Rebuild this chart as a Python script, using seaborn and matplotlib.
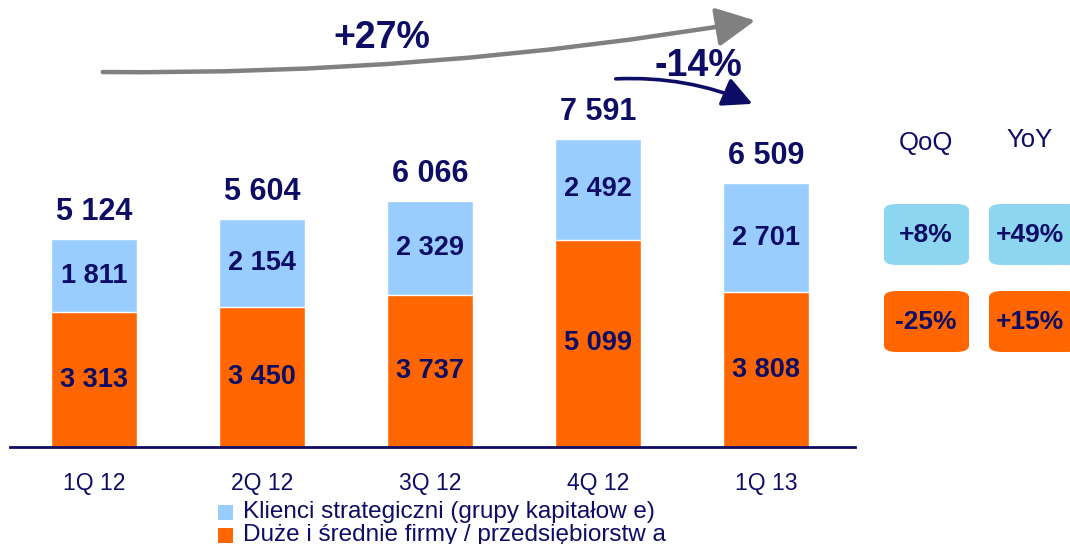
import pandas as pd
import matplotlib
matplotlib.use("Agg")
import matplotlib.pyplot as plt
import seaborn as sns
from matplotlib.patches import FancyArrowPatch, FancyBboxPatch, Rectangle

quarters = ["1Q 12", "2Q 12", "3Q 12", "4Q 12", "1Q 13"]
strategic = [1811, 2154, 2329, 2492, 2701]
mid_firms = [3313, 3450, 3737, 5099, 3808]
qoq = ["+8%", "-25%"]
yoy = ["+49%", "+15%"]
growth_total = "+27%"
growth_last = "-14%"
legend_labels = ["Klienci strategiczni (grupy kapitałow e)",
                 "Duże i średnie firmy / przedsiębiorstw a"]

navy = "#0d0d66"
blue = "#99ccff"
orange = "#ff6600"
box_blue = "#8dd6f0"

data = pd.DataFrame({"quarter": quarters, "strategic": strategic, "mid": mid_firms})
data["total"] = data["strategic"] + data["mid"]

sns.set_style("white")
plt.rcParams["font.family"] = ["Liberation Sans", "DejaVu Sans"]

W, H = 1070, 544
fig = plt.figure(figsize=(W / 100, H / 100), dpi=100)
ax = fig.add_axes([10 / W, (H - 447) / H, 845 / W, 447 / H])


def px(x, y):
    return x / W, 1 - y / H


# stacked bars: total in blue, bottom part in orange on top of it
sns.barplot(data=data, x="quarter", y="total", color=blue, width=0.51,
            saturation=1, ax=ax)
sns.barplot(data=data, x="quarter", y="mid", color=orange, width=0.51,
            saturation=1, ax=ax)

ax.set_xlim(-0.5, 4.53)
ax.set_ylim(0, 11010)
ax.set_xlabel("")
ax.set_ylabel("")
ax.set_yticks([])
for s in ["top", "left", "right"]:
    ax.spines[s].set_visible(False)
ax.spines["bottom"].set_color(navy)
ax.spines["bottom"].set_linewidth(2)
ax.tick_params(axis="x", length=0, pad=18, labelsize=16.5, labelcolor=navy)

for i, row in data.iterrows():
    ax.text(i, row["mid"] / 2, f"{row['mid']:,}".replace(",", " "),
            ha="center", va="center", fontsize=19.5, fontweight="bold", color=navy)
    ax.text(i, row["mid"] + row["strategic"] / 2,
            f"{row['strategic']:,}".replace(",", " "),
            ha="center", va="center", fontsize=19.5, fontweight="bold", color=navy)
    ax.text(i, row["total"] + 300, f"{row['total']:,}".replace(",", " "),
            ha="center", va="bottom", fontsize=22, fontweight="bold", color=navy)

# growth arrows
a1 = FancyArrowPatch(px(100, 72), px(758, 20), transform=fig.transFigure,
                     connectionstyle="arc3,rad=0.045",
                     arrowstyle="-|>,head_length=1.2,head_width=0.6",
                     mutation_scale=20, color="#808080", lw=3.2)
fig.patches.append(a1)
a2 = FancyArrowPatch(px(613, 79), px(755, 105), transform=fig.transFigure,
                     connectionstyle="arc3,rad=-0.12",
                     arrowstyle="-|>,head_length=1.0,head_width=0.5",
                     mutation_scale=18, color=navy, lw=2.6)
fig.patches.append(a2)
fig.text(*px(382, 38), growth_total, ha="center", va="center",
         fontsize=27, fontweight="bold", color=navy)
fig.text(*px(698, 66), growth_last, ha="center", va="center",
         fontsize=27, fontweight="bold", color=navy)

# QoQ / YoY boxes
fig.text(*px(926, 143), "QoQ", ha="center", va="center", fontsize=18.5, color=navy)
fig.text(*px(1030, 140), "YoY", ha="center", va="center", fontsize=18.5, color=navy)
for j, (q, y) in enumerate(zip(qoq, yoy)):
    col = box_blue if j == 0 else orange
    top = 204 + j * 87
    for k, (txt, x0) in enumerate([(q, 884), (y, 989)]):
        w = 85 if k == 0 else 90
        x_, y_ = px(x0, top + 61)
        box = FancyBboxPatch((x_, y_), w / W, 61 / H, transform=fig.transFigure,
                             boxstyle="round,pad=0,rounding_size=0.012",
                             facecolor=col, edgecolor="none", clip_on=False)
        fig.patches.append(box)
        fig.text(*px(x0 + 42 if k == 0 else x0 + 41, top + 31), txt,
                 ha="center", va="center", fontsize=19, fontweight="bold", color=navy)

# legend
for n, (lab, col) in enumerate(zip(legend_labels, [blue, orange])):
    yy = 512 + n * 23
    fig.patches.append(Rectangle(px(218, yy + 8), 15 / W, 15 / H,
                                 transform=fig.transFigure, facecolor=col,
                                 edgecolor="none"))
    fig.text(*px(243, yy), lab, ha="left", va="center", fontsize=17.5, color=navy)

fig.savefig("out.png", dpi=100)
